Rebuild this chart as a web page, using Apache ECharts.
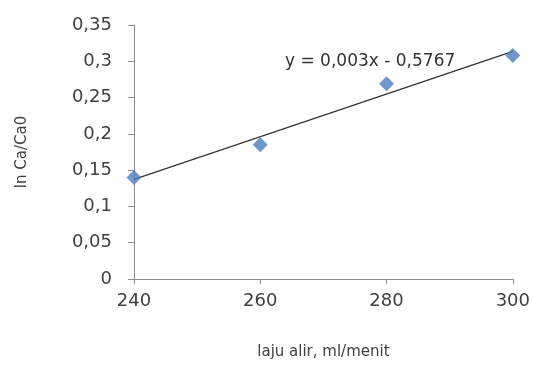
<!DOCTYPE html>
<html>
<head>
<meta charset="utf-8">
<script src="https://cdn.jsdelivr.net/npm/echarts@6/dist/echarts.min.js"></script>
<style>
  html, body { margin: 0; padding: 0; background: #fff; }
  #chart { width: 533px; height: 365px; }
</style>
</head>
<body>
<div id="chart"></div>
<script>
// laju alir (ml/menit) vs ln Ca/Ca0
var lajuAlir = [240, 260, 280, 300]
var lnCa = [0.140, 0.185, 0.269, 0.308]
var persamaan = 'y = 0,003x - 0,5767'

// garis tren (regresi linier) dari data
function trendLine (xs, ys) {
  var n = xs.length
  var mx = xs.reduce(function (a, b) { return a + b }, 0) / n
  var my = ys.reduce(function (a, b) { return a + b }, 0) / n
  var sxy = 0
  var sxx = 0
  for (var i = 0; i < n; i++) {
    sxy += (xs[i] - mx) * (ys[i] - my)
    sxx += (xs[i] - mx) * (xs[i] - mx)
  }
  var b = sxy / sxx
  var a = my - b * mx
  var x0 = xs[0]
  var x1 = xs[n - 1]
  return [[x0, a + b * x0], [x1, a + b * x1]]
}

var font = '"DejaVu Sans", sans-serif'
var textColor = '#404040'
var axisColor = '#8c8c8c'
var chart = echarts.init(document.getElementById('chart'))
chart.setOption({
  animation: false,
  grid: { left: 134, right: 20, top: 25, bottom: 86 },
  xAxis: {
    type: 'value',
    min: 240,
    max: 300,
    interval: 20,
    name: 'laju alir, ml/menit',
    nameLocation: 'middle',
    nameGap: 66,
    nameTextStyle: { color: textColor, fontSize: 15, fontFamily: font },
    splitLine: { show: false },
    axisLine: { onZero: false, lineStyle: { color: axisColor } },
    axisTick: { show: true, length: 5, lineStyle: { color: axisColor } },
    axisLabel: { color: textColor, fontSize: 18, fontFamily: font, margin: 13 }
  },
  yAxis: {
    type: 'value',
    min: 0,
    max: 0.35,
    interval: 0.05,
    name: 'ln Ca/Ca0',
    nameLocation: 'middle',
    nameGap: 104,
    nameTextStyle: { color: textColor, fontSize: 15, fontFamily: font },
    splitLine: { show: false },
    axisLine: { show: true, lineStyle: { color: axisColor } },
    axisTick: { show: true, length: 6, lineStyle: { color: axisColor } },
    axisLabel: {
      color: textColor,
      fontSize: 18,
      fontFamily: font,
      margin: 22,
      formatter: function (v) { return String(+v.toFixed(2)).replace('.', ',') }
    }
  },
  series: [
    {
      type: 'line',
      data: trendLine(lajuAlir, lnCa),
      symbol: 'none',
      lineStyle: { color: '#333', width: 1.2 },
      z: 1
    },
    {
      type: 'scatter',
      data: lajuAlir.map(function (x, i) { return [x, lnCa[i]] }),
      symbol: 'diamond',
      symbolSize: 15,
      itemStyle: { color: '#4a7ebb' },
      z: 3
    }
  ],
  graphic: [
    {
      type: 'text',
      left: 285,
      top: 53,
      style: { text: persamaan, fill: '#333', fontSize: 17, fontFamily: font }
    }
  ]
})
</script>
</body>
</html>
